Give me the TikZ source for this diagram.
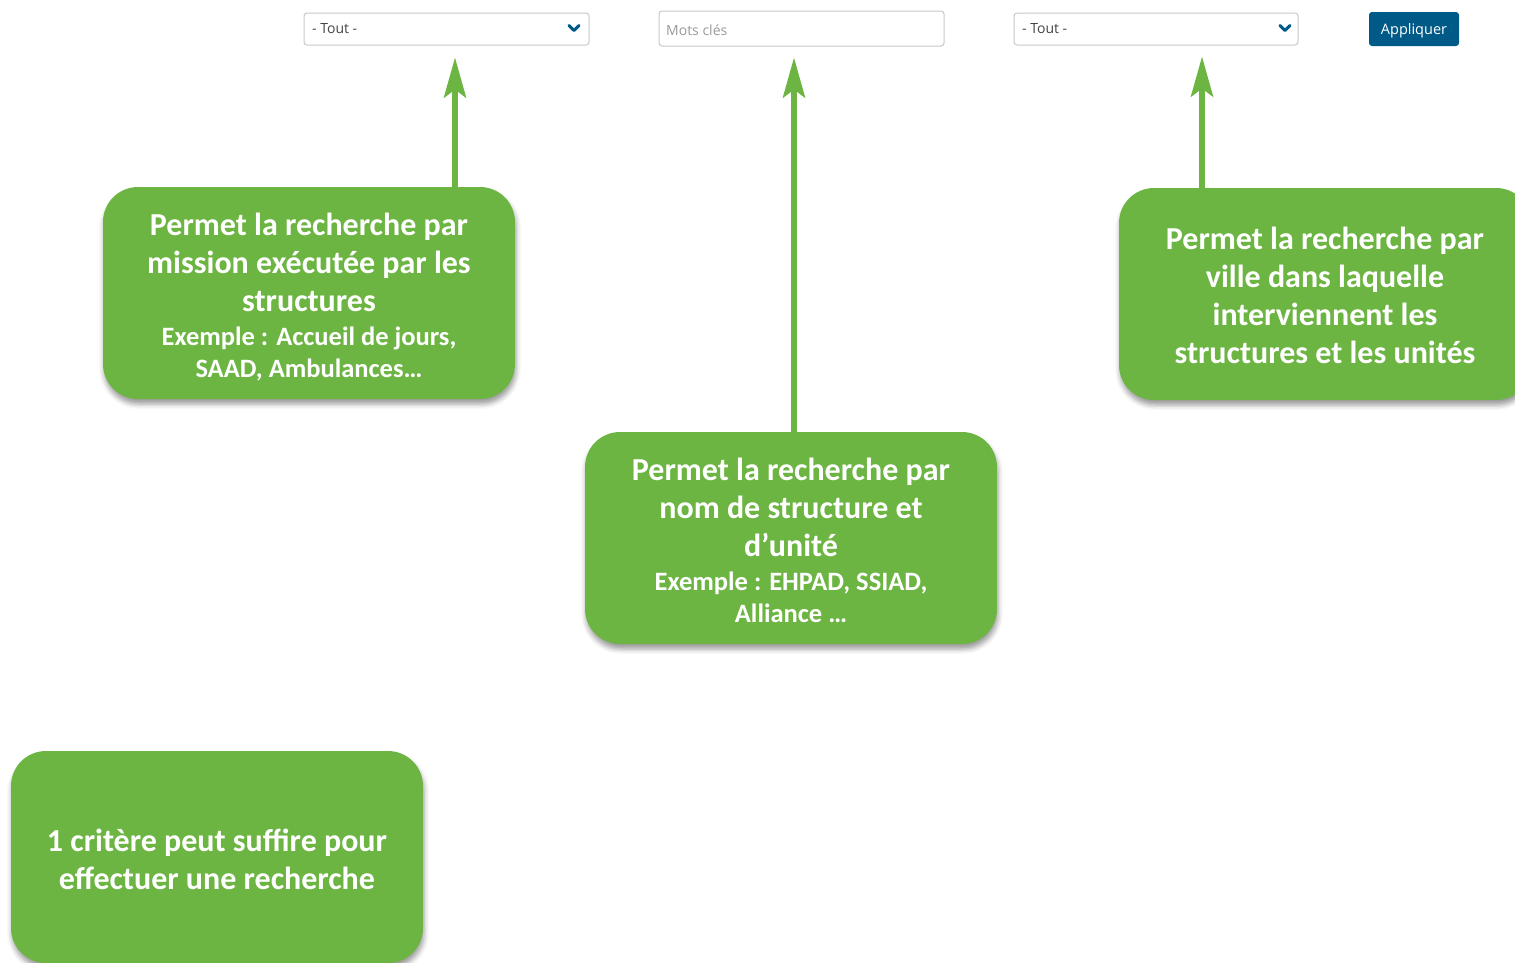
\documentclass[tikz,border=0pt]{standalone}
\usepackage{fontspec}
\setmainfont{Carlito}
\newfontfamily\uifont{Open Sans}
\usetikzlibrary{arrows.meta,shadows.blur}
\definecolor{boxgreen}{HTML}{6DB543}
\definecolor{uiblue}{HTML}{005A87}
\definecolor{uiborder}{HTML}{C8C8C8}
\definecolor{uitext}{HTML}{444444}
\definecolor{uigray}{HTML}{9A9A9A}
\newcommand{\bigtxt}{\fontsize{32}{38}\selectfont}
\newcommand{\smalltxt}{\fontsize{26.5}{32}\selectfont}
\tikzset{
  infobox/.style={fill=boxgreen, rounded corners=35pt, minimum width=412pt, minimum height=212pt,
    inner sep=0pt,
    blur shadow={shadow xshift=1pt, shadow yshift=-5pt, shadow blur radius=5pt, shadow opacity=40}},
  infotext/.style={text=white, align=center, font=\bfseries\bigtxt, inner sep=0pt},
  uifield/.style={draw=uiborder, line width=1pt, fill=white, rounded corners=3pt, inner sep=0pt},
  uilabel/.style={font=\uifont\fontsize{14}{16}\selectfont, inner sep=0pt, anchor=west},
  arr/.style={draw=boxgreen, line width=6pt, -{Stealth[length=40pt, width=22pt, inset=8pt]}},
  chev/.style={draw=uiblue, line width=3pt, line cap=round, line join=round},
}
\begin{document}
\begin{tikzpicture}[x=1pt,y=-1pt]
\useasboundingbox (0,0) rectangle (1515,962);
\clip (0,0) rectangle (1515,962);
% UI fields
\node[uifield, minimum width=285pt, minimum height=32pt] (dd1) at (446.5,29) {};
\node[uilabel, text=uitext] (dd1t) at (312,29) {- Tout -};
\draw[chev] (569,25.5) -- (574,30.5) -- (579,25.5);
\node[uifield, minimum width=285pt, minimum height=35pt] (mc) at (801.5,28.5) {};
\node[uilabel, text=uigray] (mct) at (666,30) {Mots clés};
\node[uifield, minimum width=284pt, minimum height=32pt] (dd2) at (1156,29) {};
\node[uilabel, text=uitext] (dd2t) at (1022,29) {- Tout -};
\draw[chev] (1280,25.5) -- (1285,30.5) -- (1290,25.5);
\node[fill=uiblue, rounded corners=3pt, minimum width=90pt, minimum height=34pt, inner sep=0pt] (app) at (1414,29) {};
\node[text=white, font=\uifont\fontsize{14.5}{16}\selectfont, inner sep=0pt] (appt) at (1414,31) {Appliquer};
% Boxes
\node[infobox] (b1) at (309,293) {};
\node[infotext] (b1t) at ([yshift=-4pt]b1.center) {Permet la recherche par\\ mission exécutée par les\\ structures\\[-4pt] \smalltxt Exemple : Accueil de jours,\\[-6pt] \smalltxt SAAD, Ambulances…};
\node[infobox] (b2) at (791,538) {};
\node[infotext] (b2t) at ([yshift=-2pt]b2.center) {Permet la recherche par\\ nom de structure et\\ d’unité\\[-4pt] \smalltxt Exemple : EHPAD, SSIAD,\\[-6pt] \smalltxt Alliance …};
\node[infobox] (b3) at (1325,294) {};
\node[infotext] (b3t) at ([yshift=-1pt]b3.center) {Permet la recherche par\\ ville dans laquelle\\ interviennent les\\ structures et les unités};
\node[infobox] (b4) at (217,857) {};
\node[infotext] (b4t) at ([yshift=-2pt]b4.center) {1 critère peut suffire pour\\ effectuer une recherche};
% Arrows
\draw[arr] ([xshift=146pt,yshift=-3pt]b1.north) -- ([xshift=8.5pt,yshift=-12pt]dd1.south);
\draw[arr] ([xshift=3pt,yshift=-3pt]b2.north) -- ([xshift=-7.5pt,yshift=-11pt]mc.south);
\draw[arr] ([xshift=-123pt,yshift=-3pt]b3.north) -- ([xshift=46pt,yshift=-11pt]dd2.south);
\end{tikzpicture}
\end{document}
